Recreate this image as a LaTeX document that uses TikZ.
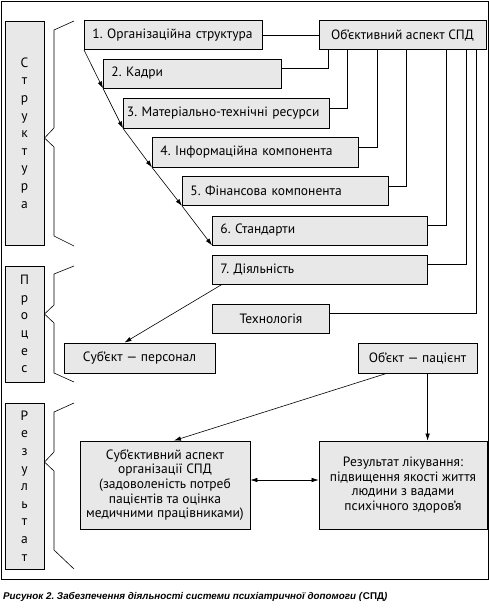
\documentclass[tikz,border=0pt]{standalone}
\usepackage{fontspec}
\setmainfont{PT Sans}
\newfontfamily\capfont{Liberation Sans}
\usetikzlibrary{positioning,arrows.meta}
\definecolor{boxgray}{gray}{0.91}
\frenchspacing
\tikzset{
  box/.style={draw, fill=boxgray, line width=0.8pt, inner sep=0pt,
              minimum height=29pt, font=\fontsize{13.5}{14.6}\selectfont},
  item/.style={box, anchor=west, align=left, inner xsep=8pt},
  sidebox/.style={box, align=center, minimum width=39pt,
                  font=\fontsize{13.5}{17.6}\selectfont},
  link/.style={line width=0.8pt},
  arr/.style={line width=0.6pt, -{Latex[length=7pt,width=4.5pt]}},
  brace/.style={line width=0.6pt},
}

\begin{document}
\begin{tikzpicture}[x=1pt, y=-1pt]
      \useasboundingbox (0,0) rectangle (489,608);
      \draw[line width=0.8pt] (1.5,1.5) rectangle (488,579);
      % left column
      \node[sidebox, minimum height=224pt] (strukt) at (24.5,133) {С\\т\\р\\у\\к\\т\\у\\р\\а};
      \node[sidebox, minimum height=116pt] (proc) at (24.5,324) {П\\р\\о\\ц\\е\\с};
      \node[sidebox, minimum height=166pt] (rez) at (24.5,486) {Р\\е\\з\\у\\л\\ь\\т\\а\\т};
      \draw[brace] (74,21) -- (54,30) -- (54,128) -- (44.5,138) -- (54,147) -- (54,236) -- (74,246)
                   (74,266) -- (54,274) -- (54,305) -- (44.5,314) -- (54,323) -- (54,373) -- (74,382)
                   (74,403) -- (54,412) -- (54,452) -- (44.5,462) -- (54,471) -- (54,550) -- (74,569);
      % structure items
      \node[item, text width=162pt] (org) at (84,35) {1. Організаційна структура};
      \node[item, text width=162pt] (kadry) at (103,73.5) {2. Кадри};
      \node[item, text width=199pt, inner xsep=3.5pt, minimum height=30pt] (mat) at (123,113) {3. Матеріально-технічні ресурси};
      \node[item, text width=190pt, minimum height=30pt] (info) at (152,152) {4. Інформаційна компонента};
      \node[item, text width=190pt] (fin) at (182,191) {5. Фінансова компонента};
      \node[item, text width=199pt] (std) at (212,230.5) {6. Стандарти};
      \node[item, text width=199pt] (dial) at (212,269.5) {7. Діяльність};
      \node[box, anchor=west, minimum width=117pt] (tech) at (212,318.5) {Технологія};
      \node[box, minimum width=167pt] (objasp) at (402.5,35) {Об’єктивний аспект СПД};
      % process and result
      \node[box, minimum width=151pt, minimum height=30pt] (subpers) at (139.5,358) {Суб’єкт — персонал};
      \node[box, minimum width=119pt, minimum height=30pt] (objpat) at (417.5,358) {Об’єкт — пацієнт};
      \node[box, align=center, minimum width=170pt, minimum height=88pt] (subasp) at (165,485)
            {Суб’єктивний аспект\\організації СПД\\(задоволеність потреб\\пацієнтів та оцінка\\медичними працівниками)};
      \node[box, align=center, minimum width=168pt, minimum height=88pt] (result) at (403,485)
            {Результат лікування:\\підвищення якості життя\\людини з вадами\\психічного здоров’я};
      \node[anchor=west, inner sep=0pt, font=\capfont\bfseries\itshape\fontsize{9.8}{12}\selectfont] (caption) at (3,597)
            {Рисунок 2. Забезпечення діяльності системи психіатричної допомоги (\textup{СПД})};
      % connectors
      \draw[link] (org) -- (objasp)
                  ([xshift=10pt]objasp.south west) |- ([yshift=5pt]kadry.east)
                  ([xshift=29pt]objasp.south west) |- ([yshift=5pt]mat.east)
                  ([xshift=59pt]objasp.south west) |- ([yshift=5pt]info.east)
                  ([xshift=88pt]objasp.south west) |- ([yshift=5pt]fin.east)
                  ([xshift=128pt]objasp.south west) |- ([yshift=5pt]std.east)
                  ([xshift=148pt]objasp.south west) |- ([yshift=5pt]dial.east)
                  ([xshift=158pt]objasp.south west) |- ([yshift=5pt]tech.east);
      \draw[arr] (org.south west) -- (kadry.south west);
      \draw[arr] (kadry.south west) -- (mat.south west);
      \draw[arr] (mat.south west) -- (info.south west);
      \draw[arr] (info.south west) -- (fin.south west);
      \draw[arr] (fin.south west) -- (std.south west);
      \draw[arr] ([xshift=10pt]dial.south west) -- ([xshift=-15pt]subpers.north);
      \draw[arr] ([xshift=29pt]objpat.south west) -- ([xshift=9pt]subasp.north);
      \draw[arr] ([xshift=70pt]objpat.south west) coordinate (pdown) -- (pdown |- result.north);
      \draw[arr, {Latex[length=7pt,width=4.5pt]}-{Latex[length=7pt,width=4.5pt]}]
            ([yshift=5pt]subasp.east) -- ([yshift=5pt]result.west);
\end{tikzpicture}
\end{document}
